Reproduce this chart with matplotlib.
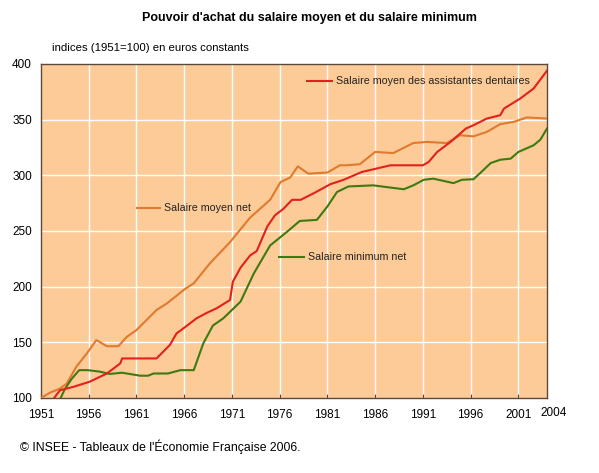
import matplotlib
matplotlib.use('Agg')
import matplotlib.pyplot as plt

# ============================================================================
# DONNÉES
# ============================================================================

annees_moyen = [1951, 1952, 1953, 1953.7, 1954.7, 1955.8, 1956.8, 1957.9, 1959.1,
                1960.0, 1961.0, 1963.1, 1964.2, 1966.1, 1967.0, 1968.7, 1970.8,
                1972.9, 1975.0, 1976.1, 1977.1, 1977.9, 1979.0, 1981.0, 1982.3,
                1983.0, 1984.4, 1986.0, 1987.9, 1990.0, 1991.4, 1993.5, 1994.9,
                1996.3, 1997.7, 1999.1, 2000.5, 2001.9, 2004.0]
salaire_moyen = [100, 105, 108.5, 113, 128, 140, 152, 146.5, 146.5,
                 155, 161, 179, 185, 198, 203, 221, 240,
                 262, 278, 294, 298, 308, 301.5, 302.5, 309,
                 309, 310, 321, 320, 329, 330, 329, 336,
                 335, 339, 346, 348, 352, 351]

annees_dent = [1952.2, 1953.0, 1954.4, 1956.1, 1957.9, 1959.3, 1959.5, 1963.1,
               1964.5, 1965.2, 1966.3, 1967.3, 1968.4, 1969.4, 1970.8, 1971.1,
               1971.9, 1972.9, 1973.6, 1974.7, 1975.5, 1976.4, 1977.3, 1978.2,
               1979.7, 1981.3, 1982.7, 1984.6, 1987.6, 1991.0, 1991.6, 1992.5,
               1993.9, 1995.5, 1996.3, 1997.7, 1999.1, 1999.5, 2001.2, 2002.6,
               2004.0]
salaire_dent = [98, 107, 110, 114.6, 122, 131, 135.5, 135.5,
                147.6, 158, 165, 171.6, 176.6, 180.6, 188, 204.5,
                217, 228, 232, 254, 264, 270, 278, 278,
                284.5, 292, 296, 303, 309, 309, 312, 321,
                330, 342, 345, 351, 354, 360, 369, 378,
                394]

annees_smic = [1952.9, 1953.5, 1954.2, 1955.0, 1955.9, 1957.2, 1958.2, 1959.5,
               1961.4, 1962.2, 1962.8, 1964.3, 1965.6, 1967.0, 1968.0, 1969.0,
               1970.1, 1971.9, 1973.3, 1975.0, 1976.8, 1978.1, 1979.9, 1981.0,
               1982.0, 1983.2, 1985.8, 1987.6, 1989.0, 1990.0, 1991.1, 1992.1,
               1994.2, 1995.1, 1996.3, 1997.0, 1998.1, 1999.1, 2000.2, 2001.0,
               2002.6, 2003.3, 2004.0]
salaire_smic = [97, 108, 117, 125, 125, 123.6, 121.6, 122.7,
                120, 120, 122, 122, 125, 125, 149, 165,
                171.6, 186.5, 212, 237, 249.5, 259, 260, 272,
                285, 290, 291, 289, 287.5, 291, 296, 297,
                293, 296, 296.5, 302, 311, 314, 315, 321,
                327, 332, 342]

annees_ticks = [1951, 1956, 1961, 1966, 1971, 1976, 1981, 1986, 1991, 1996, 2001]
valeurs_ticks = [100, 150, 200, 250, 300, 350, 400]

# ============================================================================
# STYLE
# ============================================================================

plt.rcParams['font.family'] = ['Liberation Sans', 'DejaVu Sans']

fond = '#fccb98'
rouge = '#e3201b'
orange = '#e07a2e'
vert = '#3d7a10'
cadre = '#5a4a3c'

fig = plt.figure(figsize=(5.99, 4.73), dpi=100)
ax = fig.add_axes([0.0684, 0.1586, 0.8448, 0.7061])
ax.set_facecolor(fond)

# grille blanche
for a in annees_ticks[1:]:
    ax.axvline(a, color='white', lw=1.0, zorder=1)
for v in valeurs_ticks[1:-1]:
    ax.axhline(v, color='white', lw=1.0, zorder=1)

# courbes
ax.plot(annees_moyen, salaire_moyen, color=orange, lw=1.5, zorder=3)
ax.plot(annees_smic, salaire_smic, color=vert, lw=1.5, zorder=3)
ax.plot(annees_dent, salaire_dent, color=rouge, lw=1.5, zorder=4)

ax.set_xlim(1951, 2004)
ax.set_ylim(100, 400)

ax.set_xticks(annees_ticks)
ax.set_xticklabels([str(a) for a in annees_ticks])
ax.set_yticks(valeurs_ticks)
ax.set_yticklabels([str(v) for v in valeurs_ticks])
ax.tick_params(axis='x', direction='in', length=3, color=cadre, labelsize=8.5, pad=8)
ax.tick_params(axis='y', length=0, labelsize=8.5, pad=6.5)

for s in ax.spines.values():
    s.set_color(cadre)
    s.set_linewidth(1.0)

# étiquette 2004 décalée
ax.text(1.014, -0.044, '2004', transform=ax.transAxes, fontsize=8.5,
        ha='center', va='center')

# légendes directement dans le graphique
legendes = [
    (0.526, 0.575, 0.950, rouge, 'Salaire moyen des assistantes dentaires'),
    (0.190, 0.235, 0.568, orange, 'Salaire moyen net'),
    (0.470, 0.520, 0.423, vert, 'Salaire minimum net'),
]
for x0, x1, y, couleur, texte in legendes:
    ax.plot([x0, x1], [y, y], color=couleur, lw=1.5, transform=ax.transAxes,
            zorder=5)
    ax.text(x1 + 0.008, y, texte, transform=ax.transAxes, fontsize=7.7,
            va='center', ha='left', color='#222222', zorder=5)

# titres
fig.text(0.517, 0.963, "Pouvoir d'achat du salaire moyen et du salaire minimum",
         ha='center', va='center', fontsize=9, fontweight='bold')
fig.text(0.087, 0.898, 'indices (1951=100) en euros constants',
         ha='left', va='center', fontsize=8.2)
fig.text(0.033, 0.055, "© INSEE - Tableaux de l'Économie Française 2006.",
         ha='left', va='center', fontsize=8.8)

fig.savefig('out.png', dpi=100)
